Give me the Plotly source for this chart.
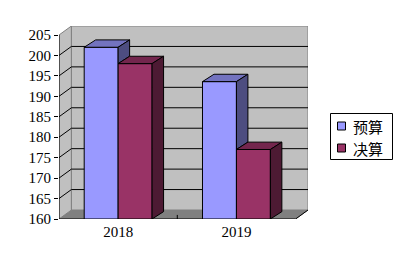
import plotly.graph_objects as go

# ---- data ----
categories = ["2018", "2019"]
series_names = ["预算", "决算"]
budget = [202, 193.6]      # 预算
final = [198, 177]         # 决算
y_ticks = list(range(160, 206, 5))

# ---- style / geometry (not data) ----
front_colors = ["#9999FF", "#993366"]
top_colors = ["#7373BF", "#73264D"]
side_colors = ["#4D4D80", "#4D1A33"]
bar_w = 0.287
wall_dx, wall_dy = 0.105, 2.2
bar_dx, bar_dy = 0.097, 1.8
ymin, ymax = 160, 205
xmin, xmax = -0.5, 1.5

W, H = 403, 273
ML, MR, MT, MB = 59, 95, 26, 54
PW, PH = W - ML - MR, H - MT - MB


def px(x):
    return (x - ML) / PW


def py(y):
    return (H - MB - y) / PH


fig = go.Figure()

# front faces as bars
values = [budget, final]
offsets = [-bar_w, 0.0]
xpos = list(range(len(categories)))
for s in range(2):
    fig.add_trace(go.Bar(
        x=xpos, y=values[s], width=bar_w, offset=offsets[s], name=series_names[s],
        marker=dict(color=front_colors[s], line=dict(color="black", width=1)),
        showlegend=False,
    ))

# top / side faces
for i in xpos:
    for s in range(2):
        v = values[s][i]
        x0 = i + offsets[s]
        x1 = x0 + bar_w
        top_x = [x0, x1, x1 + bar_dx, x0 + bar_dx, x0]
        top_y = [v, v, v + bar_dy, v + bar_dy, v]
        fig.add_trace(go.Scatter(x=top_x, y=top_y, mode="lines", fill="toself",
                                 fillcolor=top_colors[s], line=dict(color="black", width=1),
                                 showlegend=False, hoverinfo="skip"))
        base = ymin
        if s == 0:
            other = values[1][i]
            if other < v:
                base = other
        side_x = [x1, x1, x1 + bar_dx, x1 + bar_dx, x1]
        side_y = [base, v, v + bar_dy, base + bar_dy, base]
        fig.add_trace(go.Scatter(x=side_x, y=side_y, mode="lines", fill="toself",
                                 fillcolor=side_colors[s], line=dict(color="black", width=1),
                                 showlegend=False, hoverinfo="skip"))

shapes = []
# floor
shapes.append(dict(type="path", layer="below", xref="x", yref="y",
                   path=f"M{xmin},{ymin} L{xmax},{ymin} L{xmax+wall_dx},{ymin+wall_dy} L{xmin+wall_dx},{ymin+wall_dy} Z",
                   fillcolor="#808080", line=dict(color="#808080", width=1)))
# left wall
shapes.append(dict(type="path", layer="below", xref="x", yref="y",
                   path=f"M{xmin},{ymin} L{xmin},{ymax} L{xmin+wall_dx},{ymax+wall_dy} L{xmin+wall_dx},{ymin+wall_dy} Z",
                   fillcolor="#C0C0C0", line=dict(color="#808080", width=1)))
# back wall
shapes.append(dict(type="rect", layer="below", xref="x", yref="y",
                   x0=xmin+wall_dx, x1=xmax+wall_dx, y0=ymin+wall_dy, y1=ymax+wall_dy,
                   fillcolor="#C0C0C0", line=dict(color="#808080", width=1)))
# gridlines
for v in y_ticks:
    if v == ymin or v == ymax:
        continue
    shapes.append(dict(type="line", layer="below", xref="x", yref="y",
                       x0=xmin+wall_dx, x1=xmax+wall_dx, y0=v+wall_dy, y1=v+wall_dy,
                       line=dict(color="black", width=1)))
    shapes.append(dict(type="line", layer="below", xref="x", yref="y",
                       x0=xmin, x1=xmin+wall_dx, y0=v, y1=v+wall_dy,
                       line=dict(color="black", width=1)))
# axis lines
shapes.append(dict(type="line", layer="above", xref="x", yref="y",
                   x0=xmin, x1=xmin, y0=ymin, y1=ymax, line=dict(color="black", width=1)))
shapes.append(dict(type="path", layer="above", xref="x", yref="y",
                   path=f"M{xmin},{ymin} L{xmax},{ymin} L{xmax+wall_dx},{ymin+wall_dy}",
                   line=dict(color="black", width=1)))
shapes.append(dict(type="line", layer="above", xref="x", yref="y",
                   x0=0.5, x1=0.5, y0=ymin, y1=ymin+1, line=dict(color="black", width=1)))

# legend (drawn manually to match the compact box)
annotations = []
shapes.append(dict(type="rect", xref="paper", yref="paper",
                   x0=px(330.5), x1=px(392.5), y0=py(159.5), y1=py(113.5),
                   fillcolor="white", line=dict(color="black", width=1)))
for s, name in enumerate(series_names):
    cy = 126 + 22 * s
    shapes.append(dict(type="rect", xref="paper", yref="paper",
                       x0=px(337.5), x1=px(345.5), y0=py(cy + 4), y1=py(cy - 4),
                       fillcolor=front_colors[s], line=dict(color="black", width=1)))
    annotations.append(dict(xref="paper", yref="paper", x=px(351), y=py(cy),
                            xanchor="left", yanchor="middle", text=name, showarrow=False,
                            font=dict(family="Noto Sans CJK SC", size=15, color="black")))

fig.update_layout(
    width=W, height=H,
    margin=dict(l=ML, r=MR, t=MT, b=MB, autoexpand=False),
    paper_bgcolor="white", plot_bgcolor="white",
    barmode="overlay",
    shapes=shapes,
    annotations=annotations,
    showlegend=False,
    xaxis=dict(range=[xmin, xmax+wall_dx], tickvals=xpos, ticktext=categories,
               showgrid=False, zeroline=False, showline=False, ticks="",
               ticklabelstandoff=2,
               tickfont=dict(family="Liberation Serif", size=15, color="black")),
    yaxis=dict(range=[ymin, ymax+wall_dy], tickvals=y_ticks,
               showgrid=False, zeroline=False, showline=False,
               ticks="outside", ticklen=4, tickcolor="black",
               tickfont=dict(family="Liberation Serif", size=15, color="black")),
)

fig.write_html("out.html")
